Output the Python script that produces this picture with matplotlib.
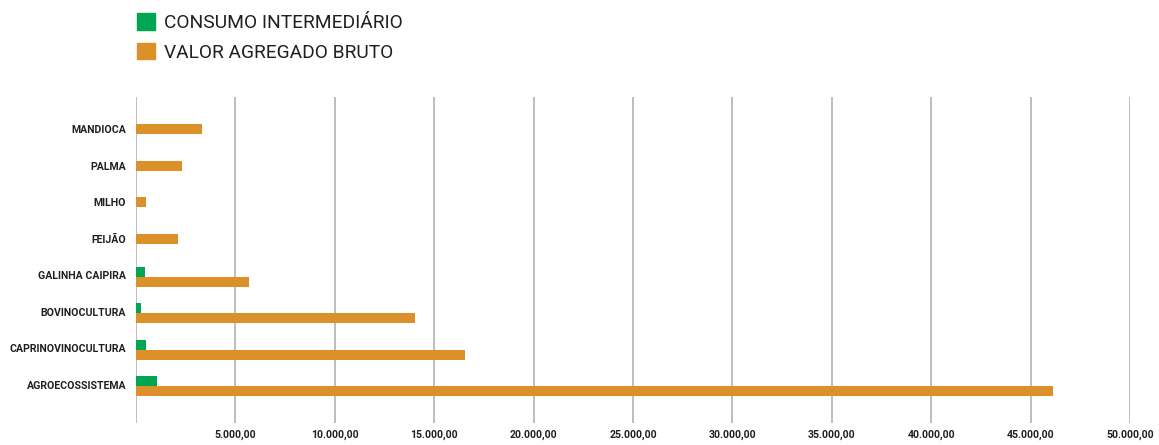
import matplotlib.pyplot as plt
from matplotlib.patches import Patch
import numpy as np

# > Data (top to bottom)
categorias = ["MANDIOCA", "PALMA", "MILHO", "FEIJÃO", "GALINHA CAIPIRA",
              "BOVINOCULTURA", "CAPRINOVINOCULTURA", "AGROECOSSISTEMA"]
consumo_intermediario = [0, 0, 0, 0, 450, 250, 520, 1060]
valor_agregado_bruto = [3330, 2310, 500, 2110, 5690, 14050, 16560, 46150]
x_ticks = [0, 5000, 10000, 15000, 20000, 25000, 30000, 35000, 40000, 45000, 50000]

VERDE = "#00A651"
LARANJA = "#DB902A"
TEXTO = "#231F20"

plt.rcParams["font.family"] = ["Roboto", "DejaVu Sans"]

fig = plt.figure(figsize=(11.59, 4.45), dpi=100)
ax = fig.add_axes([136 / 1159, 22 / 445, (1130 - 136) / 1159, (423 - 97) / 445])

y = np.arange(len(categorias))
h = 0.275
ci = np.array(consumo_intermediario)
vab = np.array(valor_agregado_bruto)

# bars: when there is no consumo, the orange bar sits centred on the label
y_ci = y - h / 2 + 0.04
y_vab = np.where(ci > 0, y + h / 2 + 0.04, y)

ax.barh(y_ci[ci > 0], ci[ci > 0], height=h, color=VERDE, zorder=3)
ax.barh(y_vab, vab, height=h, color=LARANJA, zorder=3)

ax.set_xlim(0, 50000)
ax.set_ylim(8.04, -0.875)

ax.set_xticks(x_ticks)
ax.set_xticklabels(["" if v == 0 else f"{v:,.2f}".replace(",", "X").replace(".", ",").replace("X", ".")
                    for v in x_ticks])
ax.set_yticks(y)
ax.set_yticklabels(categorias)

ax.tick_params(axis="both", length=0, labelcolor=TEXTO)
ax.tick_params(axis="y", pad=7)
ax.tick_params(axis="x", pad=5)
for lbl in ax.get_xticklabels() + ax.get_yticklabels():
    lbl.set_fontweight("bold")
    lbl.set_fontsize(7.6)

ax.grid(axis="x", color="#BDBDBD", linewidth=1.4, zorder=0)
ax.set_axisbelow(True)
for s in ax.spines.values():
    s.set_visible(False)

handles = [Patch(color=VERDE), Patch(color=LARANJA)]
fig.legend(handles, ["CONSUMO INTERMEDIÁRIO", "VALOR AGREGADO BRUTO"],
           loc="upper left", bbox_to_anchor=(120 / 1159, 1 + 4 / 445),
           frameon=False, fontsize=13.8, handlelength=0.95, handleheight=0.95,
           handletextpad=0.45, labelspacing=0.55, labelcolor=TEXTO)

plt.savefig("out.png", dpi=100)
